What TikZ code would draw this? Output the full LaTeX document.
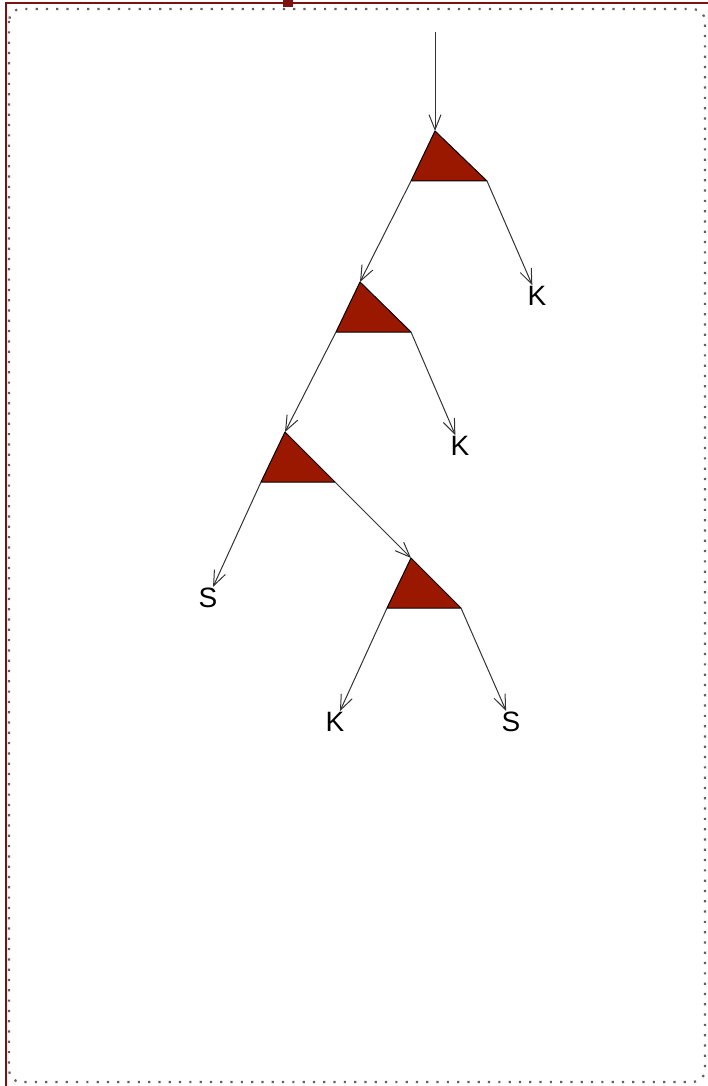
\documentclass[tikz,border=0pt]{standalone}
\usepackage{fontspec}
\setmainfont{Liberation Sans}
\usetikzlibrary{arrows.meta}
\definecolor{trired}{RGB}{155,24,0}
\definecolor{framered}{RGB}{125,18,18}
\begin{document}
\begin{tikzpicture}[x=1pt,y=-1pt,
  conn/.style={draw=black!80, line width=1pt, -{Straight Barb[length=15pt,width=12pt,line width=1pt]}},
  lab/.style={font=\fontsize{28}{28}\selectfont, inner sep=1pt},
  trishape/.style={fill=trired, draw=black, line width=1pt, line join=round}]
\useasboundingbox (0,0) rectangle (708,1086);
% frame
\draw[gray!75!black, line width=2.2pt, dash pattern=on 2.2pt off 8.1pt, rounded corners=12pt] (9,9) rectangle (705,1082);
\draw[framered, line width=2pt] (5.5,1086) -- (5.5,3.5) -- (708,3.5);
\fill[framered] (283,0) rectangle (293,7);
% triangle vertices
\coordinate (t1a) at (435,131); \coordinate (t1l) at (411,181); \coordinate (t1r) at (487,181);
\coordinate (t2a) at (360,282); \coordinate (t2l) at (336,332); \coordinate (t2r) at (411,332);
\coordinate (t3a) at (285,432); \coordinate (t3l) at (261,482); \coordinate (t3r) at (335,482);
\coordinate (t4a) at (411,558); \coordinate (t4l) at (387,608); \coordinate (t4r) at (461,608);
\coordinate (start) at (435,32);
% triangles
\draw[trishape] (t1a) -- (t1l) -- (t1r) -- cycle;
\draw[trishape] (t2a) -- (t2l) -- (t2r) -- cycle;
\draw[trishape] (t3a) -- (t3l) -- (t3r) -- cycle;
\draw[trishape] (t4a) -- (t4l) -- (t4r) -- cycle;
% labels
\node[lab] (k1) at (537,296) {K};
\node[lab] (k2) at (460,446) {K};
\node[lab] (s1) at (208,598) {S};
\node[lab] (k3) at (335,722) {K};
\node[lab] (s2) at (511,722) {S};
% connectors
\draw[conn] (start) -- (t1a);
\draw[conn] (t1l) -- (t2a);
\draw[conn] (t1r) -- (k1);
\draw[conn] (t2l) -- (t3a);
\draw[conn] (t2r) -- (k2);
\draw[conn] (t3l) -- (s1);
\draw[conn] (t3r) -- (t4a);
\draw[conn] (t4l) -- (k3);
\draw[conn] (t4r) -- (s2);
\end{tikzpicture}
\end{document}
